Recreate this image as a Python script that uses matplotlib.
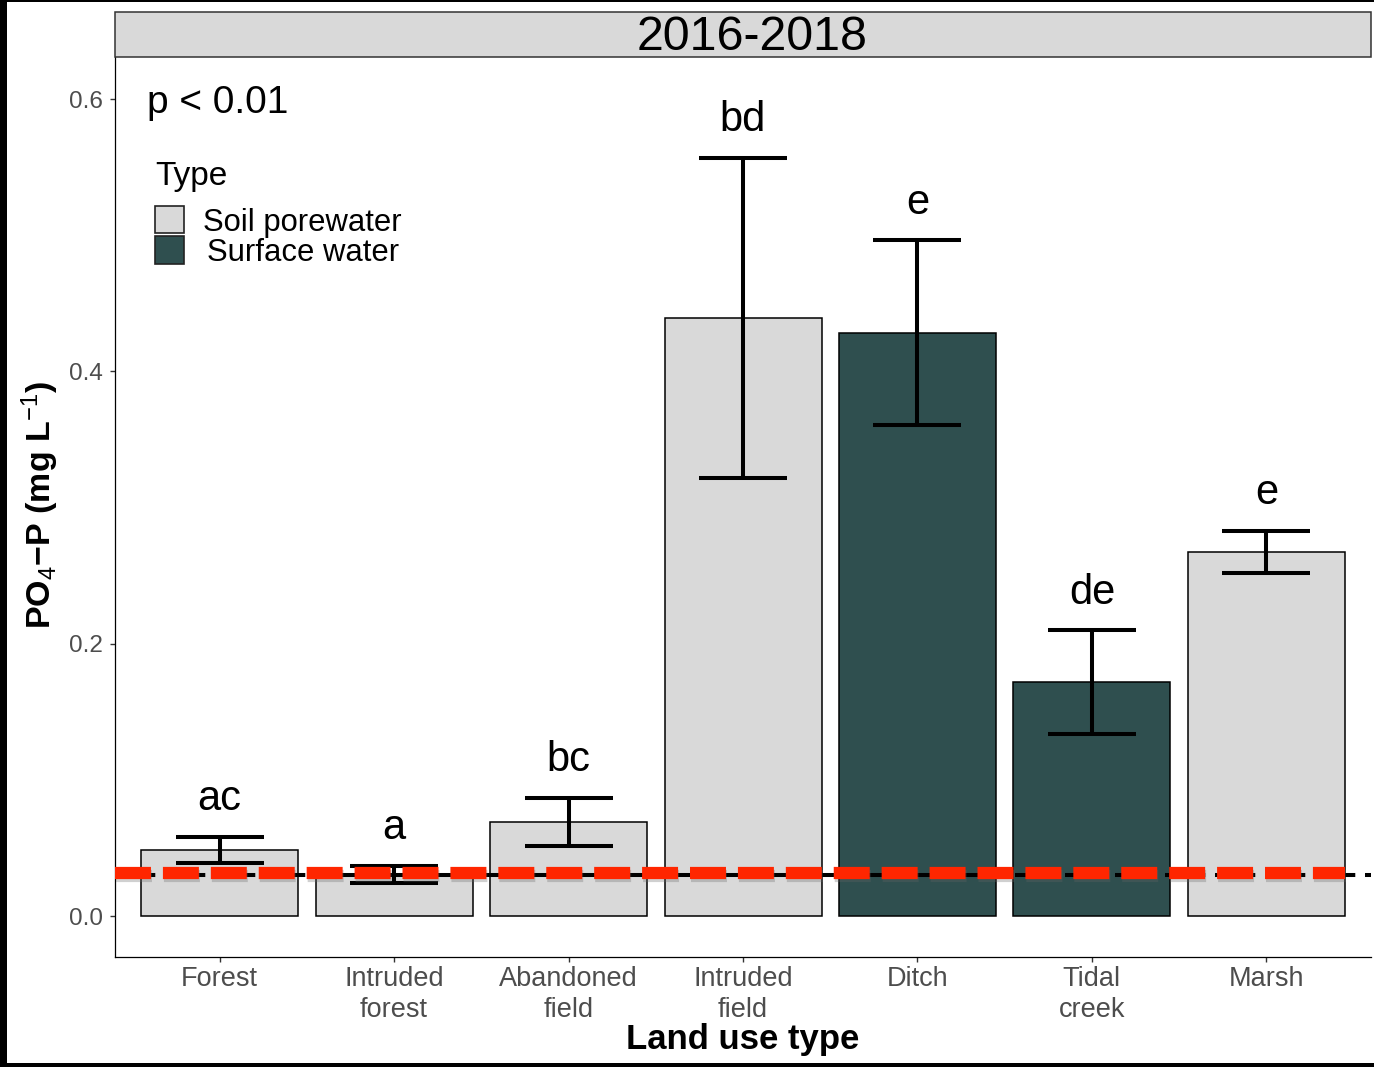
import matplotlib
matplotlib.use("Agg")
import matplotlib.pyplot as plt
import matplotlib.patheffects as pe
from matplotlib.patches import Rectangle
import numpy as np

plt.rcParams["font.family"] = ["Liberation Sans", "DejaVu Sans"]
plt.rcParams["mathtext.fontset"] = "custom"
plt.rcParams["mathtext.rm"] = "Liberation Sans"
plt.rcParams["mathtext.it"] = "Liberation Sans:italic"
plt.rcParams["mathtext.bf"] = "Liberation Sans:bold"
plt.rcParams["lines.scale_dashes"] = False

# Data
land_use = ["Forest", "Intruded\nforest", "Abandoned\nfield", "Intruded\nfield",
            "Ditch", "Tidal\ncreek", "Marsh"]
water_type = ["Soil porewater", "Soil porewater", "Soil porewater", "Soil porewater",
              "Surface water", "Surface water", "Soil porewater"]
po4_mean = [0.0485, 0.0305, 0.069, 0.4395, 0.4285, 0.172, 0.2675]
po4_se = [0.0096, 0.0063, 0.0177, 0.1175, 0.068, 0.038, 0.0155]
letters = ["ac", "a", "bc", "bd", "e", "de", "e"]
types = ["Soil porewater", "Surface water"]
type_colors = {"Soil porewater": "#D9D9D9", "Surface water": "#2F4F4F"}
threshold_black = 0.030
threshold_red = 0.0315
yticks = [0.0, 0.2, 0.4, 0.6]

W, H = 1374, 1067
fig = plt.figure(figsize=(W / 100, H / 100), dpi=100)
ax = fig.add_axes([115 / W, 1 - 957 / H, (1371 - 115) / W, (957 - 57) / H])

x = np.arange(len(land_use))
colors = [type_colors[t] for t in water_type]
ax.bar(x, po4_mean, width=0.9, color=colors, edgecolor="black", linewidth=1.1, zorder=2)
ax.errorbar(x, po4_mean, yerr=po4_se, fmt="none", ecolor="black", elinewidth=2.9,
            capsize=31.7, capthick=2.9, zorder=3)

# reference levels
ax.axhline(threshold_black, color="black", linewidth=2.9, linestyle=(0, (29, 7)), zorder=4)
ax.hlines(threshold_red, -0.6, 6.45, color="#FF2600", linewidth=8.8,
          linestyle=(0, (25.9, 8.6)), zorder=5, capstyle="butt",
          path_effects=[pe.SimpleLineShadow(offset=(1, -2), shadow_color="#666666", alpha=0.3),
                        pe.Normal()])

for xi, m, s, lab in zip(x, po4_mean, po4_se, letters):
    ax.text(xi, m + s + 0.0195, lab, ha="center", va="baseline", fontsize=30, zorder=6)

ax.set_xlim(-0.6, 6.6)
ax.set_ylim(-0.0301, 0.631)
ax.set_xticks(x)
ax.set_xticklabels(land_use, linespacing=1.25)
ax.set_yticks(yticks)
ax.set_yticklabels([f"{v:.1f}" for v in yticks])
ax.tick_params(axis="both", colors="#333333", labelcolor="#4D4D4D",
               length=3.6, width=1.0)
ax.tick_params(axis="y", pad=5, labelsize=17.5)
ax.tick_params(axis="x", pad=3, labelsize=19.5)
for side in ["top", "right"]:
    ax.spines[side].set_visible(False)
for side in ["left", "bottom"]:
    ax.spines[side].set_color("black")
    ax.spines[side].set_linewidth(0.9)

ax.set_xlabel("Land use type", fontsize=25, fontweight="bold")
ax.xaxis.set_label_coords(0.5, -0.092)
ax.xaxis.label.set_va("center")
ax.set_ylabel("PO$_4$\u2212P (mg L$^{-1}$)", fontsize=24.5, fontweight="bold")
ax.yaxis.set_label_coords(-0.0597, 0.502)
ax.yaxis.label.set_va("center")

ax.text(0.0255, 0.949, "p < 0.01", transform=ax.transAxes, fontsize=28,
        ha="left", va="center")

# legend
ax.text(0.0318, 0.8675, "Type", transform=ax.transAxes, fontsize=24, ha="left", va="center")
key_boxes = [(0.8044, 0.0300), (0.7700, 0.0311)]
label_pos = [(0.0701, 0.8157), (0.0732, 0.7823)]
for t, (y0, h), (lx, ly) in zip(types, key_boxes, label_pos):
    ax.add_patch(Rectangle((0.0318, y0), 0.0231, h, transform=ax.transAxes,
                           facecolor=type_colors[t], edgecolor="#222222", linewidth=1.2,
                           clip_on=False, zorder=7))
    ax.text(lx, ly, t, transform=ax.transAxes, fontsize=22.3, ha="left", va="center")

# facet strip
fig.patches.append(Rectangle((115 / W, 1 - 57 / H), (1371 - 115) / W, 45 / H,
                             transform=fig.transFigure, facecolor="#D9D9D9",
                             edgecolor="#333333", linewidth=1.1))
fig.text(752 / W, 1 - 38 / H, "2016-2018", ha="center", va="center", fontsize=34.8)

# outer frame
fig.patches.append(Rectangle((0, 0), 7 / W, 1, transform=fig.transFigure,
                             facecolor="black", edgecolor="none"))
fig.patches.append(Rectangle((0, 0), 1, 4 / H, transform=fig.transFigure,
                             facecolor="black", edgecolor="none"))
fig.patches.append(Rectangle((0, 1 - 1.5 / H), 1, 1.5 / H, transform=fig.transFigure,
                             facecolor="black", edgecolor="none"))

fig.savefig("out.png", dpi=100)
